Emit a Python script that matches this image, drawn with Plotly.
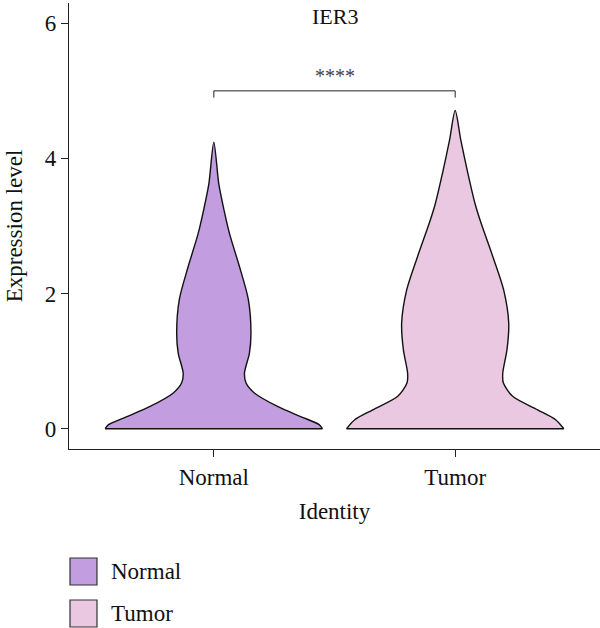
import plotly.graph_objects as go

# ---- data ----
categories = ["Normal", "Tumor"]
cat_pos = [1, 2]
colors = ["#C29DDF", "#EBC8E1"]

# density profiles: expression level (y) and relative half-width (0..1)
normal_y = [0.0, 0.06, 0.18, 0.33, 0.53, 0.68, 0.82, 1.12, 1.41, 1.91, 2.40, 2.89, 3.38, 3.63, 4.24]
normal_d = [1.0, 0.97, 0.80, 0.587, 0.373, 0.296, 0.282, 0.328, 0.342, 0.318, 0.236, 0.144, 0.075, 0.045, 0.0]
tumor_y = [0.0, 0.13, 0.28, 0.48, 0.68, 0.82, 1.17, 1.56, 2.05, 2.55, 3.04, 3.33, 3.78, 4.27, 4.71]
tumor_d = [1.0, 0.927, 0.759, 0.529, 0.443, 0.438, 0.477, 0.493, 0.447, 0.346, 0.239, 0.183, 0.117, 0.052, 0.0]

y_ticks = [0, 2, 4, 6]
bracket_y = 5.0
bracket_drop = 0.1
sig_label = "****"
title = "IER3"

max_half_width = 0.45
FONT = "Liberation Serif"
FS = 23

fig = go.Figure()

for pos, ys, ds, col, name in zip(cat_pos, [normal_y, tumor_y], [normal_d, tumor_d], colors, categories):
    left_x = [pos - d * max_half_width for d in ds]
    right_x = [pos + d * max_half_width for d in ds]
    xs = left_x + right_x[::-1][1:]
    yy = ys + ys[::-1][1:]
    fig.add_trace(go.Scatter(
        x=xs, y=yy, mode="lines", fill="toself", fillcolor=col,
        line=dict(color="#111111", width=1.4, shape="spline", smoothing=0.8),
        name=name, showlegend=False, hoverinfo="skip"))
    # flat base of the trimmed violin
    fig.add_trace(go.Scatter(
        x=[left_x[0], right_x[0]], y=[ys[0], ys[0]], mode="lines",
        line=dict(color="#111111", width=1.4), showlegend=False, hoverinfo="skip"))

# significance bracket
fig.add_trace(go.Scatter(
    x=[cat_pos[0], cat_pos[0], cat_pos[1], cat_pos[1]],
    y=[bracket_y - bracket_drop, bracket_y, bracket_y, bracket_y - bracket_drop],
    mode="lines", line=dict(color="#222222", width=1), showlegend=False, hoverinfo="skip"))

fig.add_annotation(x=sum(cat_pos) / 2, y=bracket_y, text=sig_label, showarrow=False,
                   yanchor="bottom", yshift=2, font=dict(family=FONT, size=20, color="#444444"))

fig.add_annotation(x=0.5, xref="paper", y=6.1, yref="y", text=title, showarrow=False,
                   font=dict(family=FONT, size=FS - 1, color="#111111"))

# manual legend
PT, PB = 3, 179
PH = 628 - PT - PB
for i, (name, col) in enumerate(zip(categories, colors)):
    y0 = 558 + i * 42
    fig.add_shape(type="rect", xref="paper", yref="paper",
                  x0=(70 - 69) / 531, x1=(97 - 69) / 531,
                  y0=(628 - PB - (y0 + 27)) / PH, y1=(628 - PB - y0) / PH,
                  fillcolor=col, line=dict(color="#333333", width=1.2))
    fig.add_annotation(xref="paper", yref="paper", x=(109 - 69) / 531,
                       y=(628 - PB - (y0 + 13.5)) / PH, text=name, showarrow=False,
                       xanchor="left", yanchor="middle",
                       font=dict(family=FONT, size=FS, color="#111111"))

fig.update_layout(
    width=600, height=628,
    margin=dict(l=69, r=0, t=PT, b=PB),
    paper_bgcolor="white", plot_bgcolor="white",
    font=dict(family=FONT, size=FS, color="#111111"),
    xaxis=dict(range=[0.4, 2.6], tickvals=cat_pos, ticktext=categories,
               showline=True, linecolor="#222222", linewidth=1.2,
               ticks="outside", ticklen=7, tickcolor="#222222", showgrid=False, zeroline=False,
               title=dict(text="Identity", font=dict(family=FONT, size=FS), standoff=14)),
    yaxis=dict(range=[-0.3, 6.3], tickvals=y_ticks,
               showline=True, linecolor="#222222", linewidth=1.2,
               ticks="outside", ticklen=7, tickcolor="#222222", showgrid=False, zeroline=False,
               title=dict(text="Expression level", font=dict(family=FONT, size=FS), standoff=15)),
)

fig.write_html("out.html")
